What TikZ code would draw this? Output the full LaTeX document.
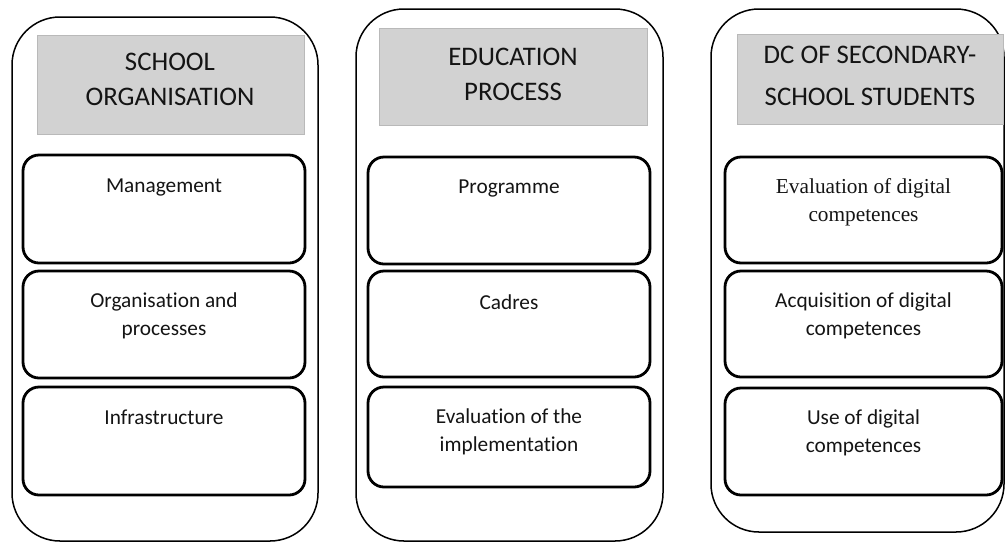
\documentclass[tikz,border=0pt]{standalone}
\usepackage{fontspec}
\setmainfont{Carlito}[Ligatures={NoCommon}]
\newfontfamily\serifx{Liberation Serif}
\definecolor{hdrfill}{RGB}{210,210,210}
\definecolor{hdrline}{RGB}{185,185,185}
\definecolor{txt}{RGB}{20,20,20}
\begin{document}
\begin{tikzpicture}[x=1pt,y=-1pt,
  outerbox/.style={draw=black, line width=1.5pt, rounded corners=48pt, inner sep=0pt, outer sep=0pt},
  header/.style={draw=hdrline, fill=hdrfill, line width=0.8pt, inner sep=0pt, outer sep=0pt},
  itembox/.style={draw=black, line width=2.8pt, rounded corners=16pt, inner sep=0pt, outer sep=0pt},
  hdrtext/.style={font=\fontsize{26.8}{35}\selectfont, text=txt, align=center, inner sep=0pt},
  hdrtextwide/.style={font=\fontsize{26.8}{42}\selectfont, text=txt, align=center, inner sep=0pt},
  itemtext/.style={font=\fontsize{21.3}{28}\selectfont, text=txt, align=center, inner sep=0pt},
  serittext/.style={font=\serifx\fontsize{21.3}{28}\selectfont, text=txt, align=center, inner sep=0pt},
]
\useasboundingbox (0,0) rectangle (1006,542);

% outer columns
\node[outerbox, minimum width=306pt, minimum height=524pt] (colA) at (165,279) {};
\node[outerbox, minimum width=307pt, minimum height=532pt] (colB) at (509.5,275) {};
\node[outerbox, minimum width=293pt, minimum height=523pt] (colC) at (857.5,270.5) {};

% headers
\node[header, minimum width=267pt, minimum height=99pt] (hA) at (170.5,84.5) {};
\node[header, minimum width=268pt, minimum height=97pt] (hB) at (513,76.5) {};
\node[header, minimum width=266pt, minimum height=90pt] (hC) at (870,79) {};

\node[hdrtext] (thA) at (170,79.5) {SCHOOL\\ORGANISATION};
\node[hdrtext] (thB) at (513,74.5) {EDUCATION\\PROCESS};
\node[hdrtextwide] (thC) at (870,76) {DC OF SECONDARY-\\SCHOOL STUDENTS};

% column A items
\node[itembox, minimum width=282pt, minimum height=108pt] (a1) at (164,209) {};
\node[itembox, minimum width=282pt, minimum height=107pt] (a2) at (164,324.5) {};
\node[itembox, minimum width=282pt, minimum height=108pt] (a3) at (164,441) {};
\node[itemtext] (ta1) at (164,187) {Management};
\node[itemtext] (ta2) at (164,316) {Organisation and\\processes};
\node[itemtext] (ta3) at (164,417) {Infrastructure};

% column B items
\node[itembox, minimum width=282pt, minimum height=107pt] (b1) at (509,210.5) {};
\node[itembox, minimum width=282pt, minimum height=106pt] (b2) at (509,324) {};
\node[itembox, minimum width=282pt, minimum height=100pt] (b3) at (509,437) {};
\node[itemtext] (tb1) at (509,188) {Programme};
\node[itemtext] (tb2) at (509,302) {Cadres};
\node[itemtext] (tb3) at (509,431.5) {Evaluation of the\\implementation};

% column C items
\node[itembox, minimum width=277pt, minimum height=106pt] (c1) at (863.5,210) {};
\node[itembox, minimum width=277pt, minimum height=106pt] (c2) at (863.5,324) {};
\node[itembox, minimum width=277pt, minimum height=107pt] (c3) at (863.5,441.5) {};
\node[serittext] (tc1) at (863.5,202) {Evaluation of digital\\competences};
\node[itemtext] (tc2) at (863.5,316) {Acquisition of digital\\competences};
\node[itemtext] (tc3) at (863.5,433) {Use of digital\\competences};
\end{tikzpicture}
\end{document}
